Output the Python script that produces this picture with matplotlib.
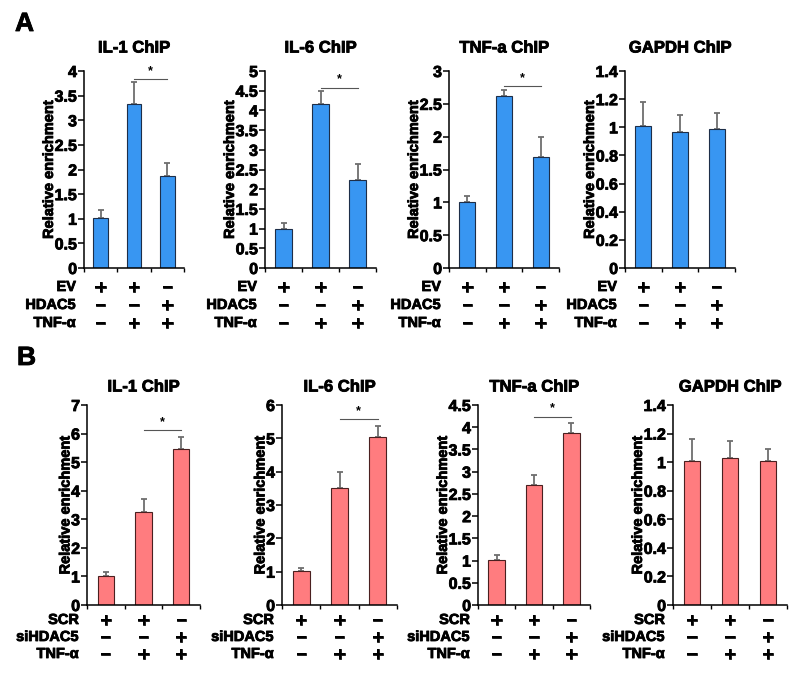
import matplotlib
matplotlib.use("Agg")
import matplotlib.pyplot as plt
import matplotlib.patheffects as pe
from matplotlib.ticker import FuncFormatter

plt.rcParams['font.family'] = ['Liberation Sans', 'DejaVu Sans']
plt.rcParams['font.weight'] = 'bold'

# ---------------- data ----------------
titles = ["IL-1 ChIP", "IL-6 ChIP", "TNF-a ChIP", "GAPDH ChIP"]

a_means = [[1.02, 3.32, 1.87], [1.00, 4.15, 2.23], [1.01, 2.62, 1.69], [1.01, 0.97, 0.99]]
a_errs = [[0.15, 0.45, 0.26], [0.15, 0.33, 0.42], [0.09, 0.09, 0.30], [0.17, 0.12, 0.11]]
a_ymax = [4, 5, 3, 1.4]
a_ystep = [0.5, 0.5, 0.5, 0.2]
a_sig = [3.84, 4.58, 2.77, None]
a_rows = ["EV", "HDAC5", "TNF-α"]
a_signs = [["+", "+", "−"], ["−", "−", "+"], ["−", "+", "+"]]

b_means = [[1.03, 3.27, 5.47], [1.01, 3.52, 5.05], [1.01, 2.71, 3.87], [1.01, 1.03, 1.01]]
b_errs = [[0.13, 0.44, 0.40], [0.11, 0.48, 0.33], [0.12, 0.21, 0.22], [0.15, 0.12, 0.08]]
b_ymax = [7, 6, 4.5, 1.4]
b_ystep = [1, 1, 0.5, 0.2]
b_sig = [6.13, 5.58, 4.24, None]
b_rows = ["SCR", "siHDAC5", "TNF-α"]
b_signs = [["+", "+", "−"], ["−", "−", "+"], ["−", "+", "+"]]

# ---------------- layout ----------------
W, H = 800, 675
fig = plt.figure(figsize=(W / 100, H / 100), dpi=100)

a_box = [(84, 184), (265, 376), (449, 559), (625, 735)]
b_box = [(87, 200), (282, 397), (478, 590), (673, 787)]

heavy = [pe.withStroke(linewidth=0.6, foreground='black')]


def fmt(v, pos):
    return "%g" % round(v, 2)


def draw(box, top, bottom, mean, err, ymax, ystep, sig, rows, signs, title,
         color, edge, title_gap, row_offs):
    l, r = box
    ax = fig.add_axes([l / W, 1 - bottom / H, (r - l) / W, (bottom - top) / H])
    x = [0, 1, 2]
    ax.bar(x, mean, width=0.44, color=color, edgecolor=edge, linewidth=0.8, zorder=2)
    ax.errorbar(x, mean, yerr=[[0, 0, 0], err], fmt='none', ecolor='#6e6e6e',
                elinewidth=1.3, capsize=2.3, capthick=1.3, zorder=1)
    ax.set_xlim(-0.5, 2.5)
    ax.set_ylim(0, ymax)
    n = int(round(ymax / ystep))
    ax.set_yticks([i * ystep for i in range(n + 1)])
    ax.yaxis.set_major_formatter(FuncFormatter(fmt))
    ax.set_xticks([-0.5, 0.5, 1.5, 2.5])
    ax.set_xticklabels([])
    for s in ['top', 'right']:
        ax.spines[s].set_visible(False)
    for s in ['left', 'bottom']:
        ax.spines[s].set_linewidth(1.1)
    ax.tick_params(axis='y', direction='out', length=4, width=1.1, labelsize=11.5, pad=1)
    ax.tick_params(axis='x', direction='out', length=3, width=1.0)
    for t in ax.get_yticklabels():
        t.set_fontweight('bold')
        t.set_path_effects(heavy)
    yl = ax.set_ylabel("Relative enrichment", fontsize=10.5, fontweight='bold', labelpad=-1)
    yl.set_path_effects(heavy)
    ax.annotate(title, xy=(1, 1), xycoords=('data', 'axes fraction'),
                xytext=(0, title_gap), textcoords='offset pixels',
                ha='center', va='center', fontsize=12, fontweight='bold',
                path_effects=heavy)
    if sig is not None:
        ax.plot([1, 2], [sig, sig], color='#555555', lw=0.8, zorder=3, clip_on=False)
        ax.annotate("*", xy=(1.5, sig), xycoords='data', xytext=(0, 2),
                    textcoords='offset pixels', ha='center', va='bottom',
                    fontsize=9, fontweight='bold')
    for ri, (lab, sg) in enumerate(zip(rows, signs)):
        yoff = -row_offs[ri]
        ax.annotate(lab, xy=(0, 0), xycoords='axes fraction', xytext=(-8, yoff),
                    textcoords='offset pixels', ha='right', va='center',
                    fontsize=10.5, fontweight='bold', path_effects=heavy)
        for xi, s in zip(x, sg):
            ax.annotate(s, xy=(xi, 0), xycoords=('data', 'axes fraction'),
                        xytext=(0, yoff), textcoords='offset pixels',
                        ha='center', va='center', family='DejaVu Sans',
                        fontsize=12 if s == "+" else 10.5, fontweight='bold',
                        path_effects=[pe.withStroke(linewidth=0.5, foreground='black')])
    return ax


for i in range(4):
    draw(a_box[i], 71, 268, a_means[i], a_errs[i], a_ymax[i], a_ystep[i], a_sig[i],
         a_rows, a_signs, titles[i], '#3896f2', '#1e2e48', 23, [19, 37, 55])
    draw(b_box[i], 405, 605, b_means[i], b_errs[i], b_ymax[i], b_ystep[i], b_sig[i],
         b_rows, b_signs, titles[i], '#ff7c7f', '#4a2020', 18, [15, 32, 49])

fig.text(15 / W, 1 - 24 / H, "A", fontsize=19, fontweight='bold', ha='left', va='center',
         path_effects=heavy)
fig.text(17 / W, 1 - 358 / H, "B", fontsize=19, fontweight='bold', ha='left', va='center',
         path_effects=heavy)

fig.savefig("out.png", dpi=100)
